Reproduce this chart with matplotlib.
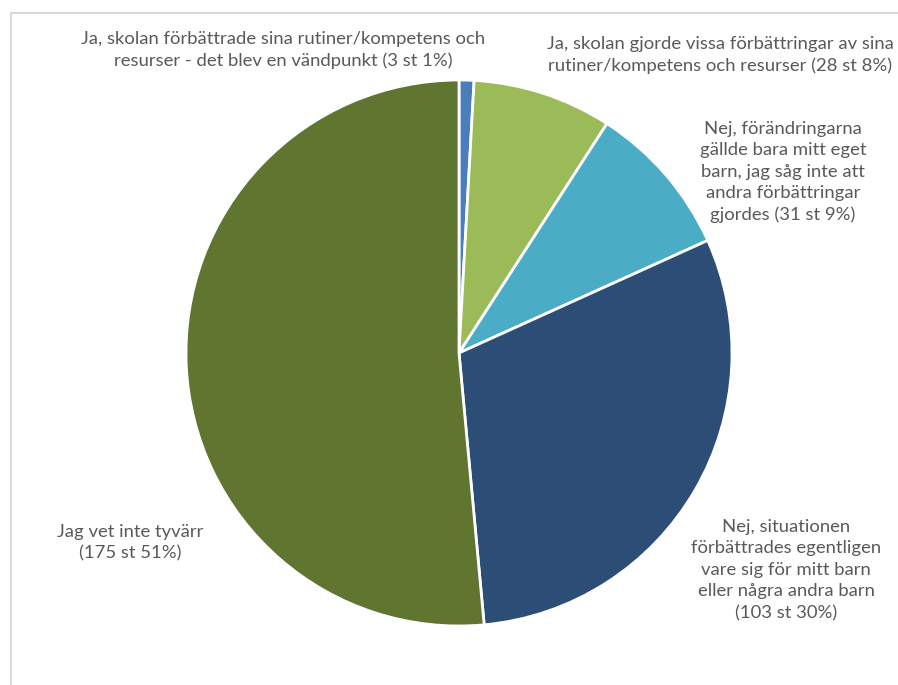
import matplotlib.pyplot as plt
from matplotlib.patches import Rectangle

plt.rcParams['font.family'] = ['Lato', 'DejaVu Sans']

labels = [
    "Ja, skolan förbättrade sina rutiner/kompetens och\nresurser - det blev en vändpunkt (3 st 1%)",
    "Ja, skolan gjorde vissa förbättringar av sina\nrutiner/kompetens och resurser (28 st 8%)",
    "Nej, förändringarna\ngällde bara mitt eget\nbarn, jag såg inte att\nandra förbättringar\ngjordes (31 st 9%)",
    "Nej, situationen\nförbättrades egentligen\nvare sig för mitt barn\neller några andra barn\n(103 st 30%)",
    "Jag vet inte tyvärr\n(175 st 51%)",
]
counts = [3, 28, 31, 103, 175]
colors = ["#4A7EBB", "#9BBB59", "#4BACC6", "#2C4D75", "#5F7530"]

# label centres in pixel coords (x, y from top)
label_pos = [(283, 50), (720, 55), (783, 172), (786, 570), (130, 543)]

W, H = 898, 685
fig = plt.figure(figsize=(W / 100, H / 100), dpi=100)
ax = fig.add_axes([0, 0, 1, 1])
ax.set_xlim(0, W)
ax.set_ylim(0, H)
ax.set_aspect("equal")
ax.axis("off")

ax.add_patch(Rectangle((11, -10), W + 20, H - 13 + 10, fill=False,
                       edgecolor="#D9D9D9", linewidth=1.5))

ax.pie(counts, colors=colors, startangle=90, counterclock=False,
       center=(459, H - 353), radius=273,
       wedgeprops=dict(edgecolor="white", linewidth=2))
ax.set_xlim(0, W)
ax.set_ylim(0, H)

for text, (x, y) in zip(labels, label_pos):
    ax.text(x, H - y, text, ha="center", va="center", fontsize=13.3,
            color="#595959", linespacing=1.42, multialignment="center")

fig.savefig("out.png", dpi=100)
